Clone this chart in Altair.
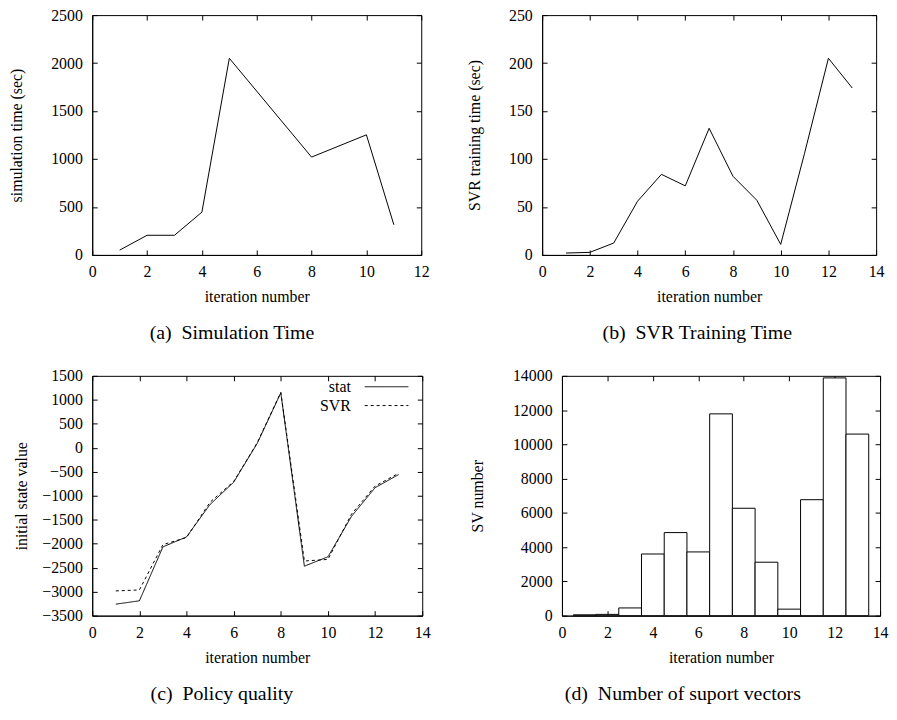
import altair as alt
import pandas as pd

FONT = "Liberation Serif"

# (a) simulation time
a_iter = [1, 2, 3, 4, 5, 8, 10, 11]
a_time = [50, 205, 205, 446, 2050, 1020, 1252, 315]

# (b) SVR training time
b_iter = [1, 2, 3, 4, 5, 6, 7, 8, 9, 10, 11, 12, 13]
b_time = [2, 2.7, 12.4, 56, 84, 72, 132, 82, 57, 11, 106, 205, 174]

# (c) policy quality
c_iter = [1, 2, 3, 4, 5, 6, 7, 8, 9, 10, 11, 12, 13]
c_stat = [-3260, -3190, -2066, -1858, -1181, -718, 93, 1145, -2468, -2273, -1429, -832, -558]
c_svr = [-2984, -2964, -2019, -1871, -1134, -705, 106, 1155, -2361, -2327, -1382, -799, -531]
c_series = ["stat", "SVR"]

# (d) number of support vectors
d_iter = [1, 2, 3, 4, 5, 6, 7, 8, 9, 10, 11, 12, 13]
d_sv = [50, 75, 450, 3600, 4850, 3720, 11780, 6270, 3120, 380, 6770, 13880, 10600]

TICK = {"expr": "-5"}
H = 242


def xaxis(vals):
    return alt.Axis(values=vals, title="iteration number", tickSize=TICK, labelPadding=14,
                    titlePadding=9, labelFlush=False, labelOverlap=False, grid=False,
                    format="d")


def yaxis(vals, title, tpad):
    return alt.Axis(values=vals, title=title, tickSize=TICK, labelPadding=15,
                    titlePadding=tpad, labelOverlap=False, grid=False, format="d")


def mirror(df, xcol, ycol, xs, ys, xvals, yvals):
    return alt.Chart(df).mark_point(opacity=0).encode(
        x=alt.X(f"{xcol}:Q", scale=xs,
                axis=alt.Axis(orient="top", values=xvals, labels=False, domain=False,
                              tickSize=TICK, title=None, grid=False)),
        y=alt.Y(f"{ycol}:Q", scale=ys,
                axis=alt.Axis(orient="right", values=yvals, labels=False, domain=False,
                              tickSize=TICK, title=None, grid=False)),
    )


def caption(text, dx):
    return alt.TitleParams(text, orient="bottom", anchor="middle", frame="bounds",
                           fontSize=20, font=FONT, fontWeight="normal", offset=19, dx=dx)


# ---- (a)
dfa = pd.DataFrame({"iter": a_iter, "t": a_time})
xs_a = alt.Scale(domain=[0, 12], nice=False, zero=False)
ys_a = alt.Scale(domain=[0, 2500], nice=False, zero=False)
xv_a = [0, 2, 4, 6, 8, 10, 12]
yv_a = [0, 500, 1000, 1500, 2000, 2500]
line_a = alt.Chart(dfa).mark_line(color="black", strokeWidth=1).encode(
    x=alt.X("iter:Q", scale=xs_a, axis=xaxis(xv_a)),
    y=alt.Y("t:Q", scale=ys_a, axis=yaxis(yv_a, "simulation time (sec)", 26)),
)
pa = alt.layer(line_a, mirror(dfa, "iter", "t", xs_a, ys_a, xv_a, yv_a)).resolve_axis(
    x="independent", y="independent").properties(
    width=332, height=H, title=caption("(a)\u00a0\u00a0Simulation Time", 13))

# ---- (b)
dfb = pd.DataFrame({"iter": b_iter, "t": b_time})
xs_b = alt.Scale(domain=[0, 14], nice=False, zero=False)
ys_b = alt.Scale(domain=[0, 250], nice=False, zero=False)
xv_b = [0, 2, 4, 6, 8, 10, 12, 14]
yv_b = [0, 50, 100, 150, 200, 250]
line_b = alt.Chart(dfb).mark_line(color="black", strokeWidth=1).encode(
    x=alt.X("iter:Q", scale=xs_b, axis=xaxis(xv_b)),
    y=alt.Y("t:Q", scale=ys_b, axis=yaxis(yv_b, "SVR training time (sec)", 26)),
)
pb = alt.layer(line_b, mirror(dfb, "iter", "t", xs_b, ys_b, xv_b, yv_b)).resolve_axis(
    x="independent", y="independent").properties(
    width=337, height=H, title=caption("(b)\u00a0\u00a0SVR Training Time", 22))

# ---- (c)
dfc = pd.DataFrame({
    "iter": c_iter * 2,
    "v": c_stat + c_svr,
    "series": [c_series[0]] * len(c_iter) + [c_series[1]] * len(c_iter),
})
xs_c = alt.Scale(domain=[0, 14], nice=False, zero=False)
ys_c = alt.Scale(domain=[-3500, 1500], nice=False, zero=False)
xv_c = [0, 2, 4, 6, 8, 10, 12, 14]
yv_c = list(range(-3500, 1501, 500))
line_c = alt.Chart(dfc).mark_line(color="black", strokeWidth=1).encode(
    x=alt.X("iter:Q", scale=xs_c, axis=xaxis(xv_c)),
    y=alt.Y("v:Q", scale=ys_c, axis=yaxis(yv_c, "initial state value", 12.5)),
    strokeDash=alt.StrokeDash(
        "series:N",
        scale=alt.Scale(domain=c_series, range=[[1, 0], [3, 3]]),
        legend=alt.Legend(title=None, orient="none", legendX=289, legendY=367,
                          symbolType="M-4,0H4", symbolSize=121, symbolStrokeWidth=1,
                          symbolStrokeColor="black", symbolFillColor="transparent",
                          labelAlign="right", labelOffset={"expr": "-44"}, padding=0,
                          rowPadding=3, labelFontSize=16, labelFont=FONT, labelColor="black"),
    ),
)
pc = alt.layer(line_c, mirror(dfc, "iter", "v", xs_c, ys_c, xv_c, yv_c)).resolve_axis(
    x="independent", y="independent").properties(
    width=333, height=H, title=caption("(c)\u00a0\u00a0Policy quality", 0))

# ---- (d)
dfd = pd.DataFrame({"iter": d_iter, "sv": d_sv})
xs_d = alt.Scale(domain=[0, 14], nice=False, zero=False)
ys_d = alt.Scale(domain=[0, 14000], nice=False, zero=False)
xv_d = [0, 2, 4, 6, 8, 10, 12, 14]
yv_d = list(range(0, 14001, 2000))
bars_d = alt.Chart(dfd).transform_calculate(
    x0="datum.iter - 0.5", x1="datum.iter + 0.5", base="0"
).mark_rect(fill="white", stroke="black", strokeWidth=1).encode(
    x=alt.X("x0:Q", scale=xs_d, axis=xaxis(xv_d)),
    x2="x1:Q",
    y=alt.Y("sv:Q", scale=ys_d, axis=yaxis(yv_d, "SV number", 27)),
    y2="base:Q",
)
pd_ = alt.layer(bars_d, mirror(dfd, "iter", "sv", xs_d, ys_d, xv_d, yv_d)).resolve_axis(
    x="independent", y="independent").properties(
    width=321, height=H, title=caption("(d)\u00a0\u00a0Number of suport vectors", 4))

chart = alt.vconcat(
    alt.hconcat(pa, pb, spacing=36),
    alt.hconcat(pc, pd_, spacing=38),
    spacing=23,
).properties(padding={"left": 0, "top": -5, "right": 0, "bottom": 0}).configure_view(
    stroke="black", strokeWidth=1
).configure_axis(
    labelFont=FONT, titleFont=FONT, labelFontSize=16, titleFontSize=16,
    titleFontWeight="normal", labelColor="black", titleColor="black",
    domainColor="black", tickColor="black", domainWidth=1, tickWidth=1,
).configure_title(font=FONT, fontSize=20, fontWeight="normal", color="black")

chart.save("out.html", embed_options={"renderer": "svg", "actions": False})
